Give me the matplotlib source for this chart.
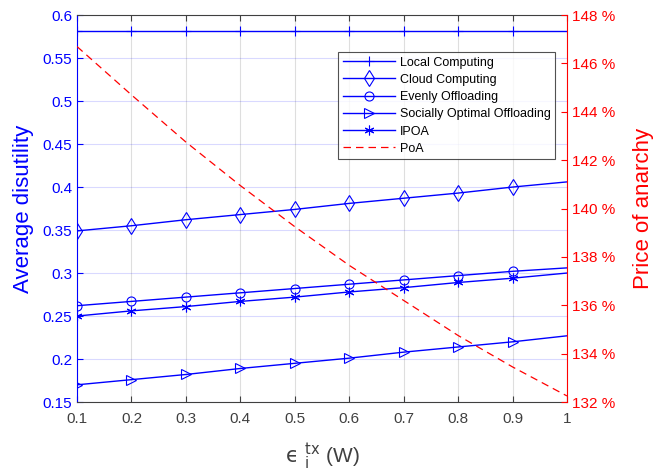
import numpy as np
import matplotlib
matplotlib.use('Agg')
import matplotlib.pyplot as plt
from matplotlib.lines import Line2D
from matplotlib.ticker import FuncFormatter

plt.rcParams['font.family'] = ['Liberation Sans', 'DejaVu Sans']
plt.rcParams['mathtext.fontset'] = 'dejavusans'

# transmit power values (W)
eps_tx = [0.1, 0.2, 0.3, 0.4, 0.5, 0.6, 0.7, 0.8, 0.9, 1.0]

# average disutility of each scheme
local_comp = [0.582, 0.582, 0.582, 0.582, 0.582, 0.582, 0.582, 0.582, 0.582, 0.582]
cloud_comp = [0.349, 0.355, 0.362, 0.368, 0.374, 0.381, 0.387, 0.393, 0.400, 0.406]
evenly = [0.262, 0.267, 0.272, 0.277, 0.282, 0.287, 0.292, 0.297, 0.302, 0.306]
social_opt = [0.170, 0.176, 0.182, 0.189, 0.195, 0.201, 0.208, 0.214, 0.220, 0.227]
ipoa = [0.250, 0.256, 0.261, 0.267, 0.272, 0.278, 0.283, 0.289, 0.294, 0.300]

# price of anarchy (%)
poa = [146.7, 144.7, 142.75, 140.95, 139.25, 137.65, 136.2, 134.75, 133.45, 132.25]

blue = '#0000ff'
red = '#ff0000'
gray = '#404040'

fig = plt.figure(figsize=(6.68, 4.72), dpi=100)
ax = fig.add_axes([0.1153, 0.1483, 0.7335, 0.8197])
ax2 = ax.twinx()

schemes = [
    (local_comp, '+', 7.5, 'Local Computing'),
    (cloud_comp, 'd', 8, 'Cloud Computing'),
    (evenly, 'o', 6.5, 'Evenly Offloading'),
    (social_opt, '>', 7, 'Socially Optimal Offloading'),
    (ipoa, (6, 2, 0), 7, 'IPOA'),
]
handles = []
for vals, m, ms, name in schemes:
    style = dict(color=blue, lw=1.0, marker=m, markersize=ms,
                 markerfacecolor='none', markeredgecolor=blue, markeredgewidth=0.8)
    ax.plot(eps_tx, vals, markevery=slice(0, 9), **style)
    handles.append(Line2D([], [], label=name, **style))

ax2.plot(eps_tx, poa, color=red, ls=(0, (6, 4)), lw=0.9)
handles.append(Line2D([], [], color=red, ls=(0, (6, 4)), lw=0.9, label='PoA'))

ax.set_xlim(0.1, 1.0)
ax.set_ylim(0.15, 0.6)
ax2.set_ylim(132, 148)
ax.set_xticks(np.arange(0.1, 1.01, 0.1))
ax.set_xticklabels(['0.1', '0.2', '0.3', '0.4', '0.5', '0.6', '0.7', '0.8', '0.9', '1'])
ax.set_yticks(np.arange(0.15, 0.601, 0.05))
ax.set_yticklabels(['0.15', '0.2', '0.25', '0.3', '0.35', '0.4', '0.45', '0.5', '0.55', '0.6'])
ax2.set_yticks(np.arange(132, 148.1, 2))
ax2.yaxis.set_major_formatter(FuncFormatter(lambda v, p: '%d %%' % v))

# grid: vertical gray, horizontal tinted with the left axis colour
ax.grid(True, axis='x', color='#262626', alpha=0.15, lw=0.8)
ax.grid(True, axis='y', color=blue, alpha=0.15, lw=0.8)
ax.set_axisbelow(True)

ax.tick_params(axis='x', direction='in', colors=gray, labelsize=11, length=4, top=True, pad=7)
ax.tick_params(axis='y', direction='in', colors=blue, labelsize=11, length=4)
ax2.tick_params(axis='y', direction='in', colors=red, labelsize=11, length=4)

ax.spines['left'].set_color(blue)
ax.spines['bottom'].set_color(gray)
ax.spines['top'].set_color(gray)
ax2.spines['right'].set_color(red)
ax2.spines['left'].set_visible(False)
ax2.spines['top'].set_visible(False)
ax2.spines['bottom'].set_visible(False)
ax.spines['right'].set_visible(False)

ax.set_ylabel('Average disutility', color=blue, fontsize=16, labelpad=6)
ax2.set_ylabel('Price of anarchy', color=red, fontsize=16, labelpad=13)
ax.set_xlabel(r'$\mathrm{ϵ}\ _\mathrm{i}^\mathrm{tx}$ (W)', color=gray, fontsize=15, labelpad=11)

leg = ax2.legend(handles=handles, loc='upper left', numpoints=1,
                 bbox_to_anchor=(0.533, 0.904), fontsize=9, frameon=True,
                 fancybox=False, edgecolor='#262626', borderpad=0.35,
                 labelspacing=0.42, handlelength=4.2, handletextpad=0.4,
                 borderaxespad=0)
leg.get_frame().set_linewidth(0.8)

fig.savefig('out.png', dpi=100)
